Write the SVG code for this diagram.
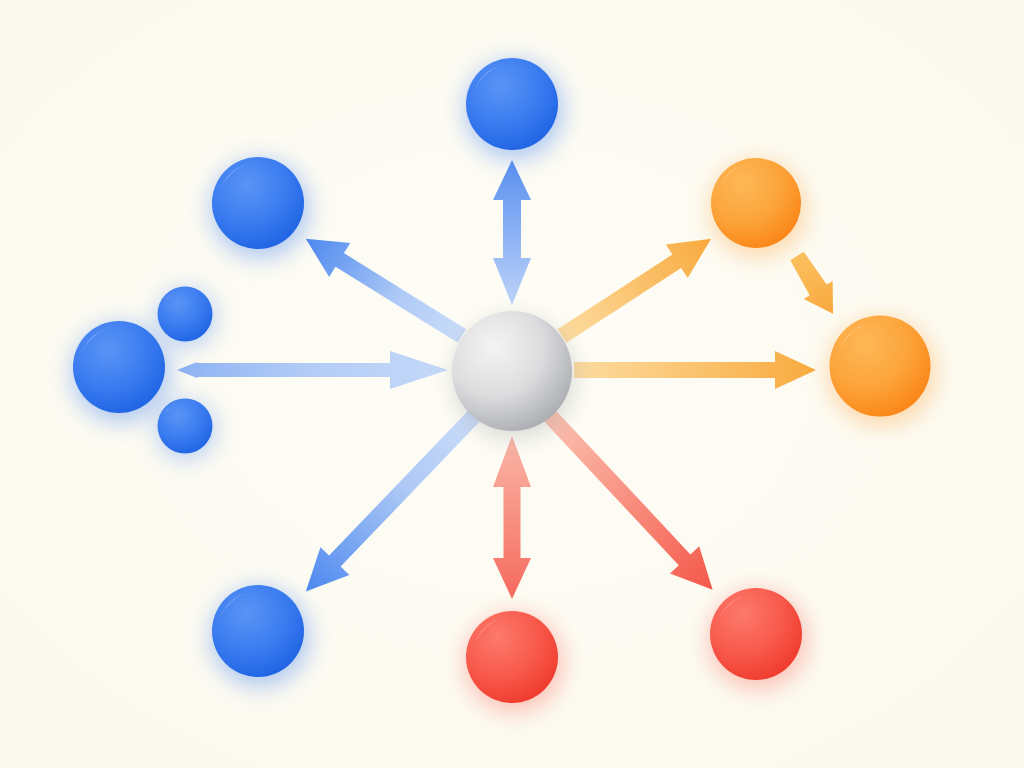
<svg xmlns="http://www.w3.org/2000/svg" xmlns:xlink="http://www.w3.org/1999/xlink" width="1024" height="768" viewBox="0 0 1024 768">
<defs>
<style>
.hl{fill:#ffffff;opacity:0.32}
.glow{filter:url(#blur)}
</style>
<radialGradient id="bg" cx="50%" cy="48%" r="75%">
<stop offset="0" stop-color="#fefdf6"/>
<stop offset="1" stop-color="#fbf9ee"/>
</radialGradient>
<filter id="blur" x="-60%" y="-60%" width="220%" height="220%"><feGaussianBlur stdDeviation="11"/></filter>
<radialGradient id="gBlue" cx="38%" cy="30%" r="75%">
<stop offset="0" stop-color="#5a94f5"/>
<stop offset="0.55" stop-color="#3b7cf0"/>
<stop offset="1" stop-color="#1f63e3"/>
</radialGradient>
<radialGradient id="gOrange" cx="35%" cy="28%" r="78%">
<stop offset="0" stop-color="#fdb857"/>
<stop offset="0.55" stop-color="#fca43a"/>
<stop offset="1" stop-color="#fb8416"/>
</radialGradient>
<radialGradient id="gRed" cx="35%" cy="28%" r="78%">
<stop offset="0" stop-color="#fc7a6c"/>
<stop offset="0.55" stop-color="#f85a4c"/>
<stop offset="1" stop-color="#ef3a2c"/>
</radialGradient>
<radialGradient id="gGrey" cx="35%" cy="30%" r="80%">
<stop offset="0" stop-color="#f4f4f4"/>
<stop offset="0.5" stop-color="#dddddf"/>
<stop offset="1" stop-color="#a3a6ab"/>
</radialGradient>
<path id="hlp" d="M-37,-15 A40 40 0 0 1 -13,-38 A46 46 0 0 0 -37,-15 Z"/>
<linearGradient id="aBlueOut" x1="0" y1="0" x2="1" y2="0">
<stop offset="0" stop-color="#cadcf9"/>
<stop offset="0.4" stop-color="#afcaf6"/>
<stop offset="1" stop-color="#4d88ef"/>
</linearGradient>
<linearGradient id="aBlueTop" x1="0" y1="0" x2="1" y2="0">
<stop offset="0" stop-color="#5a8ff0"/>
<stop offset="1" stop-color="#bcd3f8"/>
</linearGradient>
<linearGradient id="aBlueLeft" x1="0" y1="0" x2="1" y2="0">
<stop offset="0" stop-color="#8db2f3"/>
<stop offset="0.5" stop-color="#b4cdf7"/>
<stop offset="1" stop-color="#c4d8f8"/>
</linearGradient>
<linearGradient id="aRedDbl" x1="0" y1="0" x2="1" y2="0">
<stop offset="0" stop-color="#fbb6a8"/>
<stop offset="1" stop-color="#f46a5c"/>
</linearGradient>
<linearGradient id="aRedOut" x1="0" y1="0" x2="1" y2="0">
<stop offset="0" stop-color="#fcc2b1"/>
<stop offset="1" stop-color="#f4584a"/>
</linearGradient>
<linearGradient id="aOrange" x1="0" y1="0" x2="1" y2="0">
<stop offset="0" stop-color="#fddca0"/>
<stop offset="1" stop-color="#f8aa3e"/>
</linearGradient>
<linearGradient id="aOrangeS" x1="0" y1="0" x2="1" y2="0">
<stop offset="0" stop-color="#fbc160"/>
<stop offset="1" stop-color="#f8a83c"/>
</linearGradient>
</defs>
<rect width="1024" height="768" fill="url(#bg)"/>

<g id="connectors">
<path transform="translate(512,160) rotate(90)" fill="url(#aBlueTop)" d="M0,0 L40,-19 L40,-9 L98,-9 L98,-19 L145,0 L98,19 L98,9 L40,9 L40,19 Z"/>
<path transform="translate(462,336) rotate(211.9)" fill="url(#aBlueOut)" d="M0,-8 L144,-8 L144,-20 L184,0 L144,20 L144,8 L0,8 Z"/>
<path transform="translate(177,370)" fill="url(#aBlueLeft)" d="M0,0 L20,-8 L20,-7 L213,-7 L213,-19 L271,0 L213,19 L213,7 L20,7 L20,8 Z"/>
<path transform="translate(474,416) rotate(133.8)" fill="url(#aBlueOut)" d="M0,-8 L201,-8 L201,-20 L243,0 L201,20 L201,8 L0,8 Z"/>
<path transform="translate(512,436) rotate(90)" fill="url(#aRedDbl)" d="M0,0 L51,-19 L51,-8.5 L122,-8.5 L122,-19 L163,0 L122,19 L122,8.5 L51,8.5 L51,19 Z"/>
<path transform="translate(550,416) rotate(46.9)" fill="url(#aRedOut)" d="M0,-8 L197,-8 L197,-20 L238,0 L197,20 L197,8 L0,8 Z"/>
<path transform="translate(562,336) rotate(-33.1)" fill="url(#aOrange)" d="M0,-8 L137,-8 L137,-20 L178,0 L137,20 L137,8 L0,8 Z"/>
<path transform="translate(574,370)" fill="url(#aOrange)" d="M0,-8 L201,-8 L201,-19 L242,0 L201,19 L201,8 L0,8 Z"/>
<path transform="translate(797,256) rotate(58)" fill="url(#aOrangeS)" d="M0,-8 L40,-10 L40,-17 L68,0 L40,17 L40,10 L0,8 Z"/>
</g>

<g id="node-center">
<circle class="glow" cx="514" cy="378" r="62" fill="#8a8c90" opacity="0.28"/>
<circle cx="512" cy="371" r="60" fill="url(#gGrey)"/>
</g>
<g id="node-top">
<circle class="glow" cx="514" cy="110" r="50" fill="#3a7bef" opacity="0.38"/>
<circle cx="512" cy="104" r="46" fill="url(#gBlue)"/>
<use href="#hlp" class="hl" transform="translate(512,104)"/>
</g>
<g id="node-upper-left">
<circle class="glow" cx="260" cy="209" r="50" fill="#3a7bef" opacity="0.38"/>
<circle cx="258" cy="203" r="46" fill="url(#gBlue)"/>
<use href="#hlp" class="hl" transform="translate(258,203)"/>
</g>
<g id="node-left">
<circle class="glow" cx="121" cy="373" r="50" fill="#3a7bef" opacity="0.38"/>
<circle cx="119" cy="367" r="46" fill="url(#gBlue)"/>
<use href="#hlp" class="hl" transform="translate(119,367)"/>
</g>
<g id="node-left-small-top">
<circle class="glow" cx="186" cy="318" r="30" fill="#3a7bef" opacity="0.33"/>
<circle cx="185" cy="314" r="27.5" fill="url(#gBlue)"/>
<use href="#hlp" class="hl" transform="translate(185,314) scale(0.6)"/>
</g>
<g id="node-left-small-bottom">
<circle class="glow" cx="186" cy="430" r="30" fill="#3a7bef" opacity="0.33"/>
<circle cx="185" cy="426" r="27.5" fill="url(#gBlue)"/>
<use href="#hlp" class="hl" transform="translate(185,426) scale(0.6)"/>
</g>
<g id="node-lower-left">
<circle class="glow" cx="260" cy="637" r="50" fill="#3a7bef" opacity="0.38"/>
<circle cx="258" cy="631" r="46" fill="url(#gBlue)"/>
<use href="#hlp" class="hl" transform="translate(258,631)"/>
</g>
<g id="node-bottom">
<circle class="glow" cx="514" cy="663" r="50" fill="#f8584a" opacity="0.33"/>
<circle cx="512" cy="657" r="46" fill="url(#gRed)"/>
<use href="#hlp" class="hl" transform="translate(512,657)"/>
</g>
<g id="node-lower-right">
<circle class="glow" cx="758" cy="640" r="50" fill="#f8584a" opacity="0.33"/>
<circle cx="756" cy="634" r="46" fill="url(#gRed)"/>
<use href="#hlp" class="hl" transform="translate(756,634)"/>
</g>
<g id="node-upper-right">
<circle class="glow" cx="758" cy="209" r="49" fill="#fb9a2a" opacity="0.33"/>
<circle cx="756" cy="203" r="45" fill="url(#gOrange)"/>
<use href="#hlp" class="hl" transform="translate(756,203)"/>
</g>
<g id="node-right">
<circle class="glow" cx="882" cy="372" r="55" fill="#fb9a2a" opacity="0.33"/>
<circle cx="880" cy="366" r="50.5" fill="url(#gOrange)"/>
<use href="#hlp" class="hl" transform="translate(880,366) scale(1.1)"/>
</g>
</svg>
